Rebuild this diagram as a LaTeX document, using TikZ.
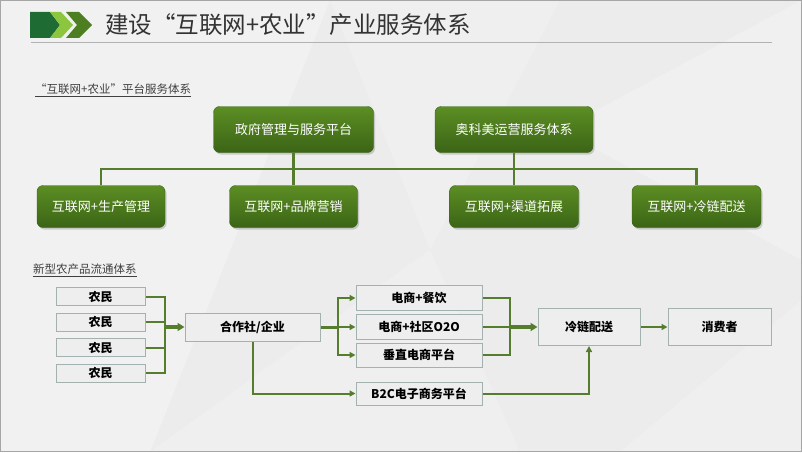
\documentclass[tikz,border=0pt]{standalone}
\usepackage{fontspec}
\setmainfont{Noto Sans CJK SC}
\usetikzlibrary{shadows,arrows.meta}

\definecolor{leaf}{HTML}{567D2E}
\definecolor{leafdark}{HTML}{3B6416}
\definecolor{leaflight}{HTML}{5C8E24}
\definecolor{boxline}{HTML}{A3B2AE}
\definecolor{boxfill}{HTML}{EEEEEE}
\definecolor{pagebg}{HTML}{ECECEC}
\definecolor{icondark}{HTML}{1F6B34}
\definecolor{iconlime}{HTML}{8CC63F}
\definecolor{iconolive}{HTML}{4D7F22}

\tikzset{
  greenbox/.style={rounded corners=6pt, top color=leaflight, bottom color=leafdark,
    draw=leafdark, text=white, font=\fontsize{13}{13}\selectfont, inner sep=0pt,
    minimum height=42pt, drop shadow={shadow xshift=1.5pt, shadow yshift=-2pt, opacity=.35}},
  graybox/.style={draw=boxline, fill=boxfill, line width=1pt, inner sep=0pt,
    font=\bfseries\fontsize{12}{12}\selectfont, minimum height=18pt},
  trunk/.style={draw=leaf, line width=2.5pt},
  link/.style={draw=leaf, line width=2pt},
  arr/.style={link, -{Triangle[length=6pt,width=6pt]}},
  bigarr/.style={draw=leaf, line width=3.5pt, -{Triangle[length=7pt,width=8pt]}},
  caption/.style={text=black!75, font=\fontsize{11.5}{12}\selectfont, anchor=west, inner sep=0pt}
}

\begin{document}
\begin{tikzpicture}[x=1pt,y=-1pt]
\useasboundingbox (0,0) rectangle (802,452);
\fill [pagebg] (0,0) rectangle (802,452);
% background facets
\fill [white, opacity=.3] (0,0) -- (330,0) -- (150,452) -- (0,452) -- cycle;
\fill [white, opacity=.2] (330,0) -- (560,0) -- (430,250) -- cycle;
\fill [white, opacity=.25] (560,130) -- (802,0) -- (802,260) -- cycle;
\fill [white, opacity=.2] (150,452) -- (430,250) -- (520,452) -- cycle;
\fill [white, opacity=.2] (620,452) -- (802,300) -- (802,452) -- cycle;
\draw [gray!70, line width=1pt] (0.5,0.5) rectangle (801.5,451.5);

% title
\fill [icondark] (30,12) -- (50,12) -- (60,25) -- (50,38) -- (30,38) -- cycle;
\fill [iconlime] (50,12) -- (61,12) -- (73,25) -- (61,38) -- (50,38) -- (60,25) -- cycle;
\fill [iconolive] (66,12) -- (79,12) -- (92,25) -- (79,38) -- (66,38) -- (77,25) -- cycle;
\node (title) [anchor=west, inner sep=0pt, text=black!80, font=\fontsize{23.5}{24}\selectfont] at (105,25) {建设“互联网+农业”产业服务体系};
\draw [gray!60, line width=1pt] (31,43) -- (772,43);

% platform
\node (cap1) [caption] at (35,90) {\underline{“互联网+农业”平台服务体系}};

\node (gov) [greenbox, minimum width=160pt, minimum height=46pt] at (293.5,129.5) {政府管理与服务平台};
\node (okm) [greenbox, minimum width=158pt, minimum height=46pt] at (514,129.5) {奥科美运营服务体系};

\node (prod) [greenbox, minimum width=128pt] at (101,206.5) {互联网+生产管理};
\node (brand) [greenbox, minimum width=128pt] at (293.5,206.5) {互联网+品牌营销};
\node (chan) [greenbox, minimum width=129pt] at (514,206.5) {互联网+渠道拓展};
\node (cold1) [greenbox, minimum width=129pt] at (696.5,206.5) {互联网+冷链配送};

\coordinate (busR) at (696.5,169);
\draw [trunk] (prod.north) |- (busR) -- (cold1.north);
\draw [trunk] (gov.south) -- (brand.north);
\draw [trunk] (okm.south) -- (chan.north);

% circulation
\node (cap2) [caption] at (33,270) {\underline{新型农产品流通体系}};

\node (f1) [graybox, minimum width=89pt] at (100.5,296.5) {农民};
\node (f2) [graybox, minimum width=89pt] at (100.5,322) {农民};
\node (f3) [graybox, minimum width=89pt] at (100.5,347.5) {农民};
\node (f4) [graybox, minimum width=89pt] at (100.5,373) {农民};

\node (coop) [graybox, minimum width=135pt, minimum height=28pt] at (252.5,327) {合作社/企业};

\node (c1) [graybox, minimum width=126pt, minimum height=25pt] at (419,298) {电商+餐饮};
\node (c2) [graybox, minimum width=126pt, minimum height=25pt] at (419,327) {电商+社区O2O};
\node (c3) [graybox, minimum width=126pt, minimum height=24pt] at (419,355) {垂直电商平台};
\node (b2c) [graybox, minimum width=126pt, minimum height=23pt] at (419,393.5) {B2C电子商务平台};

\node (cold) [graybox, minimum width=102pt, minimum height=37pt] at (589,327) {冷链配送};
\node (user) [graybox, minimum width=103pt, minimum height=37pt] at (719.5,327) {消费者};

\coordinate (fj) at (165,327);
\coordinate (sp) at (338,327);
\coordinate (mj) at (510,327);

\foreach \f in {f1,f2,f3,f4}
  \draw [link] (\f.east) -| (fj);
\draw [bigarr] (fj) -- (coop.west);

\draw [draw=leaf, line width=3pt] (coop.east) -- (sp);
\draw [arr] (sp) |- (c1.west);
\draw [arr] (sp) -- (c2.west);
\draw [arr] (sp) |- (c3.west);
\draw [arr] (coop.south) |- (b2c.west);

\draw [link] (c1.east) -| (mj);
\draw [link] (c3.east) -| (mj);
\draw [link] (c2.east) -- (mj);
\draw [bigarr] (mj) -- (cold.west);
\draw [arr] (b2c.east) -| (cold.south);
\draw [arr] (cold.east) -- (user.west);
\end{tikzpicture}
\end{document}
